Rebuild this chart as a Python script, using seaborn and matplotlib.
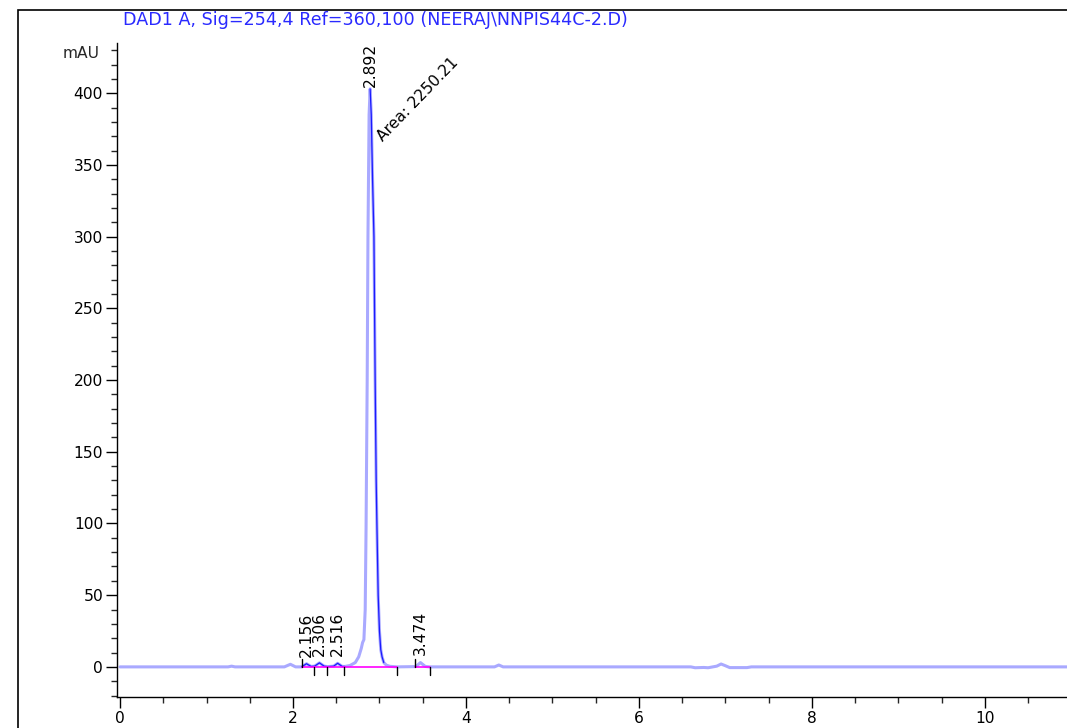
import numpy as np
import pandas as pd
import matplotlib
matplotlib.use("Agg")
import matplotlib.pyplot as plt
import matplotlib.transforms as mtransforms
from matplotlib.patches import Rectangle
from matplotlib.ticker import MultipleLocator
import seaborn as sns

# ---- data ----
time_min = [0.00, 1.25, 1.29, 1.33, 1.90, 1.97, 2.03, 2.10, 2.156, 2.21, 2.25, 2.306,
            2.36, 2.40, 2.47, 2.516, 2.57, 2.60, 2.66, 2.72, 2.76, 2.79, 2.805, 2.82,
            2.835, 2.845, 2.858, 2.867, 2.880, 2.892, 2.905, 2.920, 2.936, 2.950,
            2.962, 2.971, 2.985, 3.000, 3.015, 3.030, 3.050, 3.080, 3.120, 3.200,
            3.420, 3.474, 3.530, 3.580, 4.330, 4.380, 4.430, 6.600, 6.650, 6.750,
            6.800, 6.900, 6.950, 7.000, 7.050, 7.250, 7.300, 11.00]
signal_mau = [0.0, 0.0, 0.5, 0.0, 0.0, 1.8, 0.0, 0.0, 2.2, 0.3, 0.5, 2.8,
              0.5, 0.2, 0.5, 2.5, 0.3, 0.3, 1.0, 3.0, 7.0, 13.0, 17.0, 19.0,
              40.0, 97.0, 200.0, 300.0, 385.0, 403.0, 385.0, 340.0, 300.0, 200.0,
              130.0, 97.0, 50.0, 25.0, 12.0, 7.0, 3.0, 1.2, 0.4, 0.0,
              0.2, 3.0, 0.3, 0.0, 0.0, 1.3, 0.0, 0.0, -0.6, -0.4,
              -0.6, 0.5, 2.0, 0.8, -0.5, -0.5, 0.0, 0.0]

peak_rt = [2.156, 2.306, 2.516, 2.892, 3.474]
peak_labels = ["2.156", "2.306", "2.516", "2.892", "3.474"]
peak_height = [2.2, 2.8, 2.5, 403.0, 3.0]
main_area_label = "Area: 2250.21"

event_up = [2.10, 3.41]
event_down = [2.24, 2.39, 2.59, 3.20, 3.58]
baseline_segments = [(2.10, 2.24), (2.24, 2.39), (2.39, 2.59), (2.59, 3.20), (3.41, 3.58)]
dark_ranges = [(1.35, 1.80), (2.10, 2.60), (2.892, 3.05), (10.2, 11.0)]

title = "DAD1 A, Sig=254,4 Ref=360,100 (NEERAJ\\NNPIS44C-2.D)"

# ---- plotting ----
sns.set_style("ticks")
plt.rcParams['font.family'] = ['DejaVu Sans']
FS = 11.2

W, H = 1067, 728
fig = plt.figure(figsize=(W / 100, H / 100), dpi=100)
ax = fig.add_axes([117 / W, 1 - 697 / H, 1 - 117 / W, (697 - 43) / H])

df = pd.DataFrame({"t": time_min, "y": signal_mau})
sns.lineplot(data=df, x="t", y="y", ax=ax, color="#a9a9ff", lw=2.2, sort=False)
for a, b in dark_ranges:
    sub = df[(df.t >= a) & (df.t <= b)]
    sns.lineplot(data=sub, x="t", y="y", ax=ax, color="#1a1aff", lw=0.9, sort=False)

for a, b in baseline_segments:
    ax.plot([a, b], [0, 0], color="#ff00ff", lw=1.2, zorder=3)
for t in event_up:
    ax.plot([t, t], [0, 5.5], color="black", lw=1.0, zorder=4)
for t in event_down:
    ax.plot([t, t], [0, -5.5], color="black", lw=1.0, zorder=4)

for t, lab, h in zip(peak_rt, peak_labels, peak_height):
    ax.text(t, h + (5 if h < 100 else 1), lab, rotation=90, ha="center", va="bottom",
            fontsize=FS, color="black")
ax.text(3.0, 368, main_area_label, rotation=46, rotation_mode="anchor",
        ha="left", va="center", fontsize=FS, color="black")

ax.set_xlim(-0.035, 10.95)
ax.set_ylim(-21, 435)
ax.xaxis.set_major_locator(MultipleLocator(2))
ax.xaxis.set_minor_locator(MultipleLocator(0.5))
ax.yaxis.set_major_locator(MultipleLocator(50))
ax.yaxis.set_minor_locator(MultipleLocator(10))
ax.tick_params(which="major", length=8, width=1, labelsize=FS, colors="black", pad=2)
ax.tick_params(which="minor", length=4, width=1)
ax.set_xlabel("")
ax.set_ylabel("")
sns.despine(ax=ax, top=True, right=True)
for s in ("left", "bottom"):
    ax.spines[s].set_linewidth(1.0)
    ax.spines[s].set_color("black")

trans = mtransforms.blended_transform_factory(ax.transAxes, ax.transData)
ax.text(-0.018, 428, "mAU", transform=trans, ha="right", va="center", fontsize=FS)

fig.text(123 / W, 1 - 20 / H, title, ha="left", va="center", fontsize=12.6, color="#2a2aff")
fig.patches.append(Rectangle((18 / W, -0.1), 1.2, 1.1 - 10 / H, transform=fig.transFigure,
                             fill=False, edgecolor="black", lw=1.2))

fig.savefig("out.png", dpi=100)
